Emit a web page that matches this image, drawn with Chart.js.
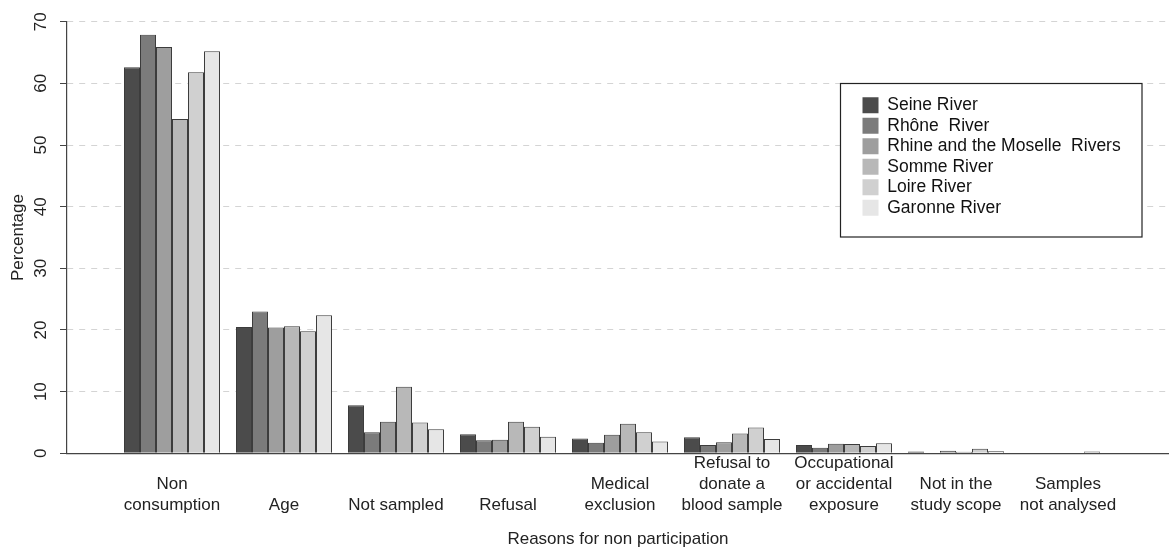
<!DOCTYPE html>
<html>
<head>
<meta charset="utf-8">
<script src="https://cdn.jsdelivr.net/npm/chart.js@4/dist/chart.umd.min.js"></script>
<style>
  html, body { margin: 0; padding: 0; background: #fff; }
  #wrap { width: 1169px; height: 554px; position: relative; }
</style>
</head>
<body>
<div id="wrap"><canvas id="myChart"></canvas></div>
<script>
// reasons for non participation (x axis), blank first lines keep labels bottom aligned
const reasons = [
    ['', 'Non', 'consumption'],
    ['', '', 'Age'],
    ['', '', 'Not sampled'],
    ['', '', 'Refusal'],
    ['', 'Medical', 'exclusion'],
    ['Refusal to', 'donate a', 'blood sample'],
    ['Occupational', 'or accidental', 'exposure'],
    ['', 'Not in the', 'study scope'],
    ['', 'Samples', 'not analysed']
];

const rivers = ['Seine River', 'Rhône  River', 'Rhine and the Moselle  Rivers', 'Somme River', 'Loire River', 'Garonne River'];

const seine   = [62.6, 20.5, 7.8, 3.1, 2.4, 2.6, 1.35, 0.3, 0];
const rhone   = [67.9, 23.0, 3.4, 2.1, 1.7, 1.35, 0.9, 0.1, 0];
const rhine   = [65.9, 20.4, 5.1, 2.2, 3.0, 1.8, 1.55, 0.4, 0];
const somme   = [54.2, 20.6, 10.8, 5.1, 4.8, 3.2, 1.5, 0.25, 0.1];
const loire   = [61.8, 19.8, 5.0, 4.3, 3.4, 4.2, 1.2, 0.75, 0.3];
const garonne = [65.2, 22.4, 3.9, 2.7, 1.9, 2.3, 1.65, 0.35, 0];

const yTicks = [0, 10, 20, 30, 40, 50, 60, 70];

const series = [seine, rhone, rhine, somme, loire, garonne];
const fills = ['#4b4b4b', '#7b7b7b', '#9e9e9e', '#b8b8b8', '#d0d0d0', '#e6e6e6'];

const FONT = "'Liberation Sans', Arial, sans-serif";

// white framed box behind the legend, legend redrawn on top of the grid
const legendBox = {
    id: 'legendBox',
    afterLayout(chart) {
        const lg = chart.legend;
        lg.left = 859.5;
        lg.top = 93.5;
        lg.right = lg.left + 280;
        lg.bottom = lg.top + 200;
        lg.adjustHitBoxes();
    },
    afterDraw(chart) {
        const ctx = chart.ctx;
        ctx.save();
        ctx.fillStyle = '#fff';
        ctx.fillRect(840, 83.5, 302, 153.5);
        ctx.strokeStyle = '#222';
        ctx.lineWidth = 1.2;
        ctx.strokeRect(840.5, 83.5, 301.5, 153.5);
        ctx.restore();
        chart.legend.draw();
    }
};

const ctx = document.getElementById('myChart').getContext('2d');
const myChart = new Chart(ctx, {
    type: 'bar',
    data: {
        datasets: series.map((vals, k) => ({
            label: rivers[k],
            data: vals.map((v, i) => ({ x: i, y: v })),
            backgroundColor: fills[k],
            borderColor: '#3c3c3c',
            borderWidth: 1,
            borderSkipped: 'start'
        }))
    },
    options: {
        responsive: true,
        maintainAspectRatio: false,
        animation: false,
        layout: { padding: { top: 21.7, left: 0, right: 0, bottom: 0 } },
        datasets: {
            bar: { categoryPercentage: 96 / 112, barPercentage: 1 }
        },
        plugins: {
            tooltip: { enabled: false },
            legend: {
                position: 'chartArea',
                align: 'start',
                labels: {
                    color: '#111',
                    font: { family: FONT, size: 17.5 },
                    boxWidth: 16,
                    boxHeight: 16,
                    padding: 3,
                    generateLabels(chart) {
                        return Chart.defaults.plugins.legend.labels.generateLabels(chart)
                            .map(item => Object.assign(item, { lineWidth: 0, strokeStyle: item.fillStyle }));
                    }
                }
            }
        },
        scales: {
            x: {
                type: 'linear',
                offset: false,
                min: -0.9375,
                max: 8.902,
                afterBuildTicks(scale) {
                    scale.ticks = reasons.map((r, i) => ({ value: i }));
                },
                afterFit(scale) { scale.height = 100.7; },
                ticks: {
                    autoSkip: false,
                    maxRotation: 0,
                    padding: 0,
                    color: '#222',
                    font: { family: FONT, size: 17, lineHeight: 1.235 },
                    callback: (v) => reasons[v]
                },
                grid: { display: false, drawTicks: false, offset: false },
                border: { display: true, color: '#444', width: 1.2 },
                title: {
                    display: true,
                    text: 'Reasons for non participation',
                    color: '#222',
                    font: { family: FONT, size: 17 },
                    padding: { top: 4, bottom: 4 }
                }
            },
            y: {
                min: 0,
                max: 70,
                afterBuildTicks(scale) {
                    scale.ticks = yTicks.map(v => ({ value: v }));
                },
                afterFit(scale) { scale.width = 67; },
                ticks: {
                    minRotation: 90,
                    maxRotation: 90,
                    crossAlign: 'center',
                    padding: 9,
                    color: '#222',
                    font: { family: FONT, size: 17 }
                },
                grid: {
                    color: (c) => c.tick && c.tick.value === 0 ? 'rgba(0,0,0,0)' : '#d4d4d4',
                    lineWidth: 1,
                    tickLength: 7,
                    tickColor: '#444',
                    tickBorderDash: []
                },
                border: { display: true, color: '#444', width: 1.2, dash: [6, 6] },
                title: {
                    display: true,
                    text: 'Percentage',
                    color: '#222',
                    font: { family: FONT, size: 17 },
                    padding: { top: 8, bottom: 0 }
                }
            }
        }
    },
    plugins: [legendBox]
});
</script>
</body>
</html>
